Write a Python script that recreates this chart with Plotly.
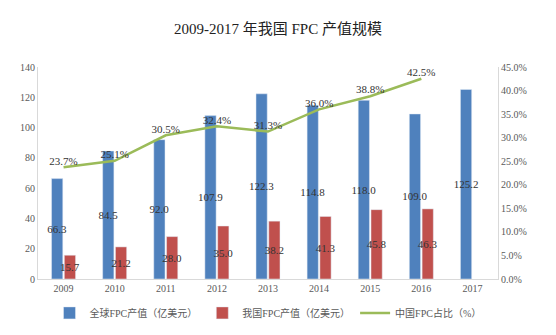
import plotly.graph_objects as go

years = ["2009", "2010", "2011", "2012", "2013", "2014", "2015", "2016", "2017"]
global_fpc = [66.3, 84.5, 92.0, 107.9, 122.3, 114.8, 118.0, 109.0, 125.2]
china_fpc = [15.7, 21.2, 28.0, 35.0, 38.2, 41.3, 45.8, 46.3, None]
china_share = [23.7, 25.1, 30.5, 32.4, 31.3, 36.0, 38.8, 42.5, None]

serif = "Liberation Serif, Times New Roman, Noto Sans CJK SC, serif"

fig = go.Figure()
fig.add_trace(go.Bar(
    x=years, y=global_fpc, name="全球FPC产值（亿美元）",
    marker_color="#4F81BD",
    text=[f"{v:.1f}" for v in global_fpc],
    textposition="inside", insidetextanchor="middle", textangle=0,
    constraintext="none",
    textfont=dict(family=serif, size=11, color="#333333"),
))
fig.add_trace(go.Bar(
    x=years, y=china_fpc, name="我国FPC产值（亿美元）",
    marker_color="#C0504D",
    text=[f"{v:.1f}" if v is not None else "" for v in china_fpc],
    textposition="inside", insidetextanchor="middle", textangle=0,
    constraintext="none",
    textfont=dict(family=serif, size=11, color="#333333"),
))
fig.add_trace(go.Scatter(
    x=years, y=china_share, name="中国FPC占比（%）", yaxis="y2",
    mode="lines+text",
    line=dict(color="#9BBB59", width=2.5),
    text=[f"{v:.1f}%" if v is not None else "" for v in china_share],
    textposition="top center",
    textfont=dict(family=serif, size=11, color="#333333"),
))

fig.update_layout(
    width=556, height=335,
    paper_bgcolor="white", plot_bgcolor="white",
    margin=dict(l=38, r=58, t=67, b=56, autoexpand=False),
    title=dict(text="2009-2017 年我国 FPC 产值规模", x=0.5, xanchor="center",
               y=0.913, yanchor="middle",
               font=dict(family=serif, size=15, color="#222222")),
    barmode="group", bargap=0.5, bargroupgap=0.12,
    font=dict(family=serif, size=10, color="#595959"),
    xaxis=dict(type="category", showline=True, linecolor="#D9D9D9",
               ticks="", showgrid=False,
               tickfont=dict(family=serif, size=10, color="#595959")),
    yaxis=dict(range=[0, 140], dtick=20, showline=True, linecolor="#D9D9D9",
               showgrid=False, zeroline=False, ticks="",
               tickfont=dict(family=serif, size=10, color="#595959")),
    yaxis2=dict(range=[0, 45], dtick=5, overlaying="y", side="right",
                ticksuffix="%", tickformat=".1f", showline=True,
                linecolor="#D9D9D9", showgrid=False, zeroline=False, ticks="",
                tickfont=dict(family=serif, size=10, color="#595959")),
    legend=dict(orientation="h", x=0.5, xanchor="center",
                yref="container", y=0.066, yanchor="middle",
                font=dict(family=serif, size=10, color="#595959"),
                itemwidth=30),
    showlegend=True,
)

fig.write_html("out.html")
